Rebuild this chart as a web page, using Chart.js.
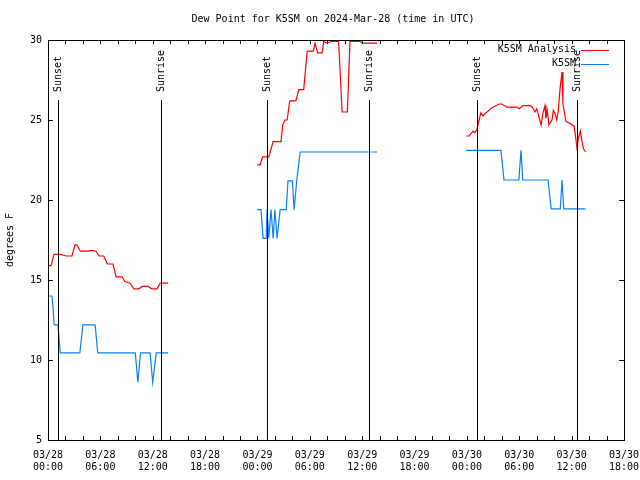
<!DOCTYPE html>
<html>
<head>
<meta charset="utf-8">
<script src="https://cdn.jsdelivr.net/npm/chart.js"></script>
<style>
  body { margin: 0; background: #fff; }
  canvas { display: block; }
</style>
</head>
<body>
<canvas id="dewChart" width="640" height="480"></canvas>
<script>
// hours since 03/28 00:00 UTC, null breaks the line between days
const analysisHours = [0, 0.34, 0.69, 1.4, 2.1, 2.75, 3.1, 3.3, 3.7, 4.6, 5.0, 5.5, 5.85, 6.4, 6.8, 7.45, 7.8, 8.5, 8.8, 9.4, 9.85, 10.4, 10.8, 11.45, 11.9, 12.5, 12.85, 13.75,
  19,
  23.98, 24.3, 24.6, 25.3, 25.8, 26.7, 26.9, 27.15, 27.4, 27.7, 28.4, 28.75, 29.3, 29.7, 30.4, 30.6, 30.9, 31.4, 31.6, 31.95, 32.5, 33.3, 33.7, 34.3, 34.6, 35.75, 36.0, 37.7,
  43,
  47.9, 48.25, 48.7, 48.9, 49.15, 49.4, 49.6, 49.85, 50.1, 50.8, 51.7, 52.0, 52.6, 53.7, 54.0, 54.4, 55.2, 55.5, 55.8, 56.0, 56.5, 56.7, 56.95, 57.05, 57.2, 57.4, 57.75, 57.9, 58.1, 58.3, 58.45, 58.7, 58.9, 59.0, 59.35, 59.8, 60.3, 60.6, 60.75, 61.0, 61.15, 61.35, 61.6];
const analysisDew = [15.9, 15.9, 16.6, 16.6, 16.5, 16.5, 17.2, 17.2, 16.8, 16.8, 16.85, 16.8, 16.5, 16.5, 16.0, 16.0, 15.2, 15.2, 14.9, 14.8, 14.45, 14.45, 14.6, 14.6, 14.45, 14.45, 14.8, 14.8,
  null,
  22.2, 22.2, 22.7, 22.7, 23.65, 23.65, 24.7, 25.0, 25.0, 26.2, 26.2, 26.9, 26.9, 29.3, 29.3, 29.8, 29.2, 29.2, 29.92, 29.8, 29.92, 29.92, 25.5, 25.5, 29.92, 29.92, 29.8, 29.8,
  null,
  24.0, 24.0, 24.3, 24.2, 24.4, 25.0, 25.45, 25.25, 25.4, 25.75, 26.0, 26.0, 25.8, 25.8, 25.7, 25.9, 25.9, 25.8, 25.5, 25.7, 24.7, 25.4, 25.9, 25.1, 25.6, 24.7, 25.0, 25.6, 25.4, 25.0, 25.5, 27.1, 28.0, 26.0, 24.9, 24.8, 24.6, 23.3, 23.8, 24.3, 23.75, 23.2, 23.0];

const stationHours = [0, 0.45, 0.6, 0.7, 1.15, 1.4, 3.65, 4.0, 5.4, 5.7, 10.0, 10.3, 10.6, 11.7, 12.0, 12.4, 13.75,
  19,
  23.98, 24.4, 24.65, 25.0, 25.1, 25.3, 25.55, 25.8, 26.0, 26.25, 26.6, 27.3, 27.5, 28.0, 28.2, 28.5, 28.9, 37.7,
  43,
  47.9, 51.9, 52.25, 53.95, 54.2, 54.4, 57.3, 57.65, 58.7, 58.9, 59.1, 61.6];
const stationDew = [14.0, 14.0, 13.1, 12.2, 12.2, 10.45, 10.45, 12.2, 12.2, 10.45, 10.45, 8.6, 10.45, 10.45, 8.6, 10.45, 10.45,
  null,
  19.4, 19.4, 17.6, 17.6, 19.4, 17.6, 19.4, 17.6, 19.4, 17.6, 19.4, 19.4, 21.2, 21.2, 19.4, 21.2, 23.0, 23.0,
  null,
  23.1, 23.1, 21.25, 21.25, 23.1, 21.25, 21.25, 19.45, 19.45, 21.25, 19.45, 19.45];

const sunHours = [1.15, 12.95, 25.1, 36.8, 49.15, 60.6];
const sunLabels = ['Sunset', 'Sunrise', 'Sunset', 'Sunrise', 'Sunset', 'Sunrise'];

const tickDates = ['03/28', '03/28', '03/28', '03/28', '03/29', '03/29', '03/29', '03/29', '03/30', '03/30', '03/30', '03/30'];
const tickTimes = ['00:00', '06:00', '12:00', '18:00', '00:00', '06:00', '12:00', '18:00', '00:00', '06:00', '12:00', '18:00'];

const FONT = '10px "DejaVu Sans Mono"';

const toPoints = (xs, ys) => xs.map((x, i) => ({ x: x, y: ys[i] }));

// gnuplot-ish frame: box, inward ticks, sun lines, legend, title
const framePlugin = {
  id: 'frame',
  afterDatasetsDraw(chart) {
    const { ctx, chartArea: a, scales } = chart;
    const xs = scales.x, ys = scales.y;
    ctx.save();
    ctx.strokeStyle = '#000';
    ctx.lineWidth = 1;
    ctx.font = FONT;
    ctx.fillStyle = '#000';

    // sunrise / sunset markers
    sunHours.forEach((h, i) => {
      const px = Math.round(xs.getPixelForValue(h)) + 0.5;
      ctx.beginPath();
      ctx.moveTo(px, a.bottom);
      ctx.lineTo(px, a.top + 60);
      ctx.stroke();
      ctx.save();
      ctx.translate(px, a.top + 52);
      ctx.rotate(-Math.PI / 2);
      ctx.textAlign = 'left';
      ctx.textBaseline = 'middle';
      ctx.fillText(sunLabels[i], 0, 0);
      ctx.restore();
    });

    ctx.strokeRect(Math.round(a.left) + 0.5, Math.round(a.top) + 0.5,
      Math.round(a.right - a.left), Math.round(a.bottom - a.top));

    ctx.beginPath();
    for (let h = xs.min; h <= xs.max; h += 2) {
      const px = Math.round(xs.getPixelForValue(h)) + 0.5;
      ctx.moveTo(px, a.bottom); ctx.lineTo(px, a.bottom - 4);
      ctx.moveTo(px, a.top); ctx.lineTo(px, a.top + 4);
    }
    for (let v = ys.min; v <= ys.max; v += 5) {
      const py = Math.round(ys.getPixelForValue(v)) + 0.5;
      ctx.moveTo(a.left, py); ctx.lineTo(a.left + 5, py);
      ctx.moveTo(a.right, py); ctx.lineTo(a.right - 5, py);
    }
    ctx.stroke();

    // legend in the top right corner
    ctx.textAlign = 'right';
    ctx.textBaseline = 'middle';
    chart.data.datasets.forEach((ds, i) => {
      const y = a.top + 9.5 + i * 14;
      ctx.fillStyle = '#000';
      ctx.fillText(ds.label, a.right - 48, y);
      ctx.strokeStyle = ds.borderColor;
      ctx.beginPath();
      ctx.moveTo(a.right - 43, Math.round(y) + 0.5);
      ctx.lineTo(a.right - 15, Math.round(y) + 0.5);
      ctx.stroke();
    });

    ctx.fillStyle = '#000';
    ctx.textAlign = 'center';
    ctx.fillText('Dew Point for K5SM on 2024-Mar-28 (time in UTC)', (a.left + a.right) / 2 - 3, 19);
    ctx.restore();
  }
};

new Chart(document.getElementById('dewChart'), {
  type: 'line',
  data: {
    datasets: [
      { label: 'K5SM Analysis', data: toPoints(analysisHours, analysisDew), borderColor: '#ff0000', borderWidth: 1.2, pointRadius: 0, tension: 0, spanGaps: false },
      { label: 'K5SM', data: toPoints(stationHours, stationDew), borderColor: '#0a80f5', borderWidth: 1.2, pointRadius: 0, tension: 0, spanGaps: false }
    ]
  },
  options: {
    responsive: false,
    animation: false,
    layout: { padding: { top: 40, right: 16, left: 0, bottom: 0 } },
    plugins: { legend: { display: false }, title: { display: false }, tooltip: { enabled: false } },
    scales: {
      x: {
        type: 'linear', min: 0, max: 66,
        grid: { display: false, drawTicks: false },
        border: { display: false },
        afterFit(scale) { scale.height = 40; scale.paddingLeft = 0; scale.paddingRight = 0; },
        ticks: {
          stepSize: 6, autoSkip: false, maxRotation: 0, padding: 9,
          color: '#000', font: { family: 'DejaVu Sans Mono', size: 10 },
          callback: (v) => { const i = Math.round(v / 6); return [tickDates[i], tickTimes[i]]; }
        }
      },
      y: {
        min: 5, max: 30,
        grid: { display: false, drawTicks: false },
        border: { display: false },
        afterFit(scale) { scale.width = 48; },
        ticks: { stepSize: 5, padding: 6, color: '#000', font: { family: 'DejaVu Sans Mono', size: 10 } },
        title: { display: true, text: 'degrees F', color: '#000', padding: 4, font: { family: 'DejaVu Sans Mono', size: 10 } }
      }
    }
  },
  plugins: [framePlugin]
});
</script>
</body>
</html>
